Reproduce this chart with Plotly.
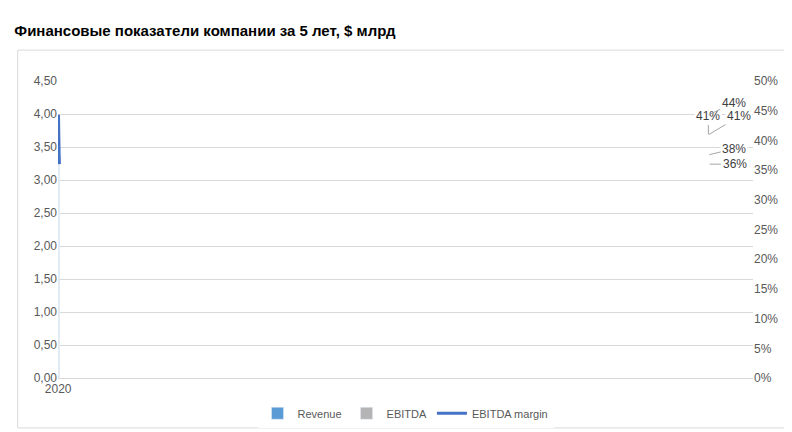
import plotly.graph_objects as go

years = ["2020", "2021", "2022", "2023", "2024"]
revenue = [3.20, 3.46, 3.62, 3.81, 3.99]
ebitda = [1.31, 1.53, 1.46, 1.43, 1.44]
margin = [0.41, 0.443, 0.41, 0.376, 0.36]
margin_labels = ["41%", "44%", "41%", "38%", "36%"]
ebitda_labels = ["", "", "", "", "1,44"]

fig = go.Figure()
fig.add_trace(go.Bar(x=years, y=revenue, name="Revenue", marker_color="#5B9BD5",
                     text=[f"{v:.2f}".replace(".", ",") for v in revenue],
                     textposition="outside", textfont=dict(size=12, color="#404040"),
                     cliponaxis=False))
fig.add_trace(go.Bar(x=years, y=ebitda, name="EBITDA", marker_color="#B4B4B4",
                     text=ebitda_labels, textposition="outside",
                     textfont=dict(size=12, color="#404040"), cliponaxis=False))
fig.add_trace(go.Scatter(x=years, y=margin, name="EBITDA margin", yaxis="y2",
                         mode="lines", line=dict(color="#4472C4", width=3)))

# подписи маржи с выносками
offsets = [(0, -18), (25, -12), (30, -18), (25, -6), (25, 0)]
for yr, m, lab, (ax, ay) in zip(years, margin, margin_labels, offsets):
    fig.add_annotation(x=yr, y=m, xref="x", yref="y2", text=lab, showarrow=True,
                       arrowhead=0, arrowcolor="#A6A6A6", arrowwidth=1,
                       ax=ax, ay=ay, font=dict(size=12, color="#404040"),
                       bgcolor="white")

fig.update_layout(
    width=792, height=432,
    paper_bgcolor="white", plot_bgcolor="white",
    font=dict(family="Liberation Sans, Arial", size=12, color="#595959"),
    title=dict(text="<b>Финансовые показатели компании за 5 лет, $ млрд</b>",
               x=0.008, y=0.96, xanchor="left", font=dict(size=15, color="black")),
    margin=dict(l=50, r=47, t=73, b=62),
    barmode="group", bargap=0.52, bargroupgap=0,
    xaxis=dict(type="category", showline=True, linecolor="#D9D9D9",
               tickfont=dict(color="#595959")),
    yaxis=dict(range=[0, 4.5], dtick=0.5, tickformat=".2f",
               gridcolor="#D9D9D9", zeroline=False),
    yaxis2=dict(range=[0, 0.5], dtick=0.05, tickformat=".0%", overlaying="y",
                side="right", showgrid=False, zeroline=False),
    separators=", ",
    legend=dict(orientation="h", x=0.5, xanchor="center", y=-0.07, yanchor="top",
                font=dict(size=11, color="#595959")),
    shapes=[dict(type="rect", xref="paper", yref="paper", x0=-0.058, x1=1.058,
                 y0=-0.168, y1=1.104, line=dict(color="#D9D9D9", width=1))],
)

fig.write_html("out.html")
